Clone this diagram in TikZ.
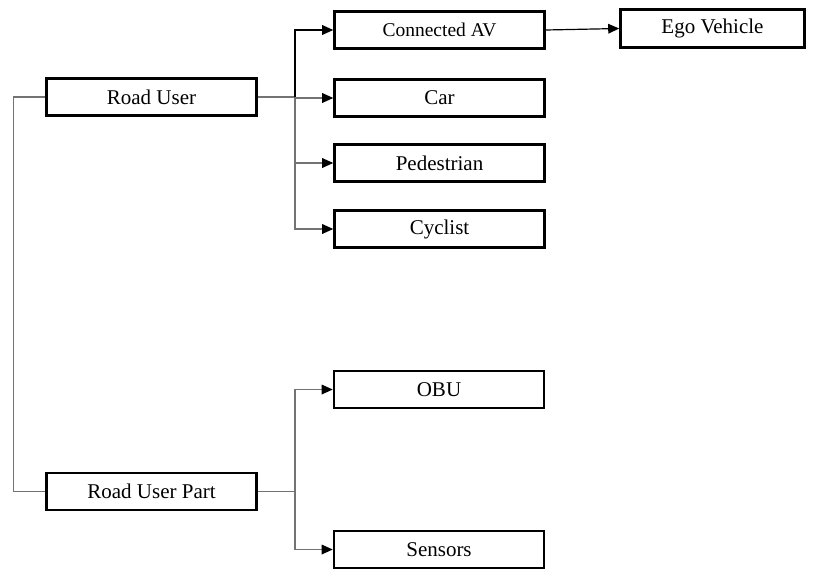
\documentclass[tikz,border=0pt]{standalone}
\usepackage{fontspec}
\setmainfont{Liberation Serif}
\usetikzlibrary{arrows.meta}
\begin{document}
\begin{tikzpicture}[x=1pt,y=-1pt,
  box/.style={draw=black,line width=2.6pt,fill=white,minimum width=210pt,minimum height=37pt,inner sep=0pt,font=\fontsize{21}{23}\selectfont},
  conn/.style={draw=black!55,line width=1.2pt},
  arr/.style={conn,-{Triangle[length=11pt,width=10pt,fill=black,line width=0pt]}}]
\useasboundingbox (0,0) rectangle (820,570);
\node[box] (ru) at (151.5,97) {Road User};
\node[box] (rup) at (151.5,491.5) {Road User Part};
\node[box,font=\fontsize{19.5}{21}\selectfont] (cav) at (439.5,30) {Connected AV};
\node[box,minimum width=184pt,minimum height=38pt] (ego) at (712.5,28.5) {Ego Vehicle};
\node[box] (car) at (439.5,98) {Car};
\node[box] (ped) at (439.5,163) {Pedestrian};
\node[box] (cyc) at (439.5,229) {Cyclist};
\node[box] (obu) at (439,389.5) {OBU};
\node[box] (sen) at (439,549.5) {Sensors};
\coordinate (j1) at (295,97);
\coordinate (j2) at (295,491.5);
\draw[conn] (ru.east) -- (j1);
\draw[arr,draw=black] (j1) |- (cav.west);
\draw[arr] (j1) |- (car.west);
\draw[arr] (j1) |- (ped.west);
\draw[arr] (j1) |- (cyc.west);
\draw[arr,draw=black] (cav.east) -- (ego.west);
\draw[conn] (ru.west) -- ++(-32,0) |- (rup.west);
\draw[conn] (rup.east) -- (j2);
\draw[arr] (j2) |- (obu.west);
\draw[arr] (j2) |- (sen.west);
\end{tikzpicture}
\end{document}
